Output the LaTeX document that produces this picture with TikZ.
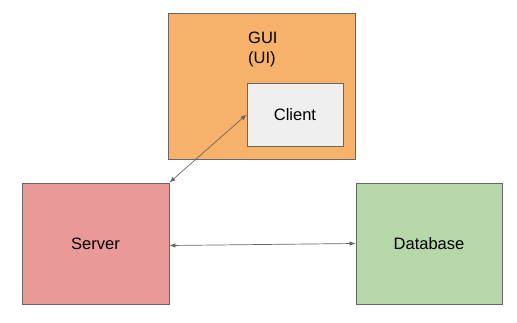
\documentclass[tikz,border=0pt]{standalone}
\usepackage{fontspec}
\setmainfont{Liberation Sans}
\usetikzlibrary{arrows.meta, positioning}
\definecolor{guiorange}{RGB}{246, 178, 107}
\definecolor{clientgray}{RGB}{239, 239, 239}
\definecolor{serverred}{RGB}{234, 153, 153}
\definecolor{dbgreen}{RGB}{182, 215, 168}
\definecolor{edgegray}{RGB}{102, 102, 102}
\tikzset{
  block/.style={rectangle, draw=edgegray, line width=0.8pt, inner sep=0pt, font=\fontsize{16.5}{20}\selectfont},
  guibox/.style={block, fill=guiorange, minimum width=187pt, minimum height=146pt},
  clientbox/.style={block, fill=clientgray, minimum width=96pt, minimum height=63pt},
  serverbox/.style={block, fill=serverred, minimum width=147pt, minimum height=121pt},
  dbbox/.style={block, fill=dbgreen, minimum width=146pt, minimum height=121pt},
  link/.style={draw=edgegray, line width=0.7pt, {Latex[length=6pt,width=4.5pt]}-{Latex[length=6pt,width=4.5pt]}}
}

\begin{document}
\begin{tikzpicture}[x=1pt, y=-1pt]
    \useasboundingbox (0,0) rectangle (517,323);
    % GUI frame with the client inside
    \node[guibox] (GUI) at (261.5, 86) {};
    \node[anchor=north west, align=left, inner sep=0pt, font=\fontsize{16.5}{20}\selectfont] (GUILabel) at (248, 32) {GUI\\(UI)};
    \node[clientbox] (Client) at (295, 114.5) {Client};

    % Back end
    \node[serverbox] (Server) at (95.5, 243.5) {Server};
    \node[dbbox] (Database) at (429, 243.5) {Database};

    % Connections
    \draw[link] (Server.north east) -- (Client.west);
    \draw[link] ([yshift=-2pt]Server.east) -- (Database.west);
\end{tikzpicture}
\end{document}
